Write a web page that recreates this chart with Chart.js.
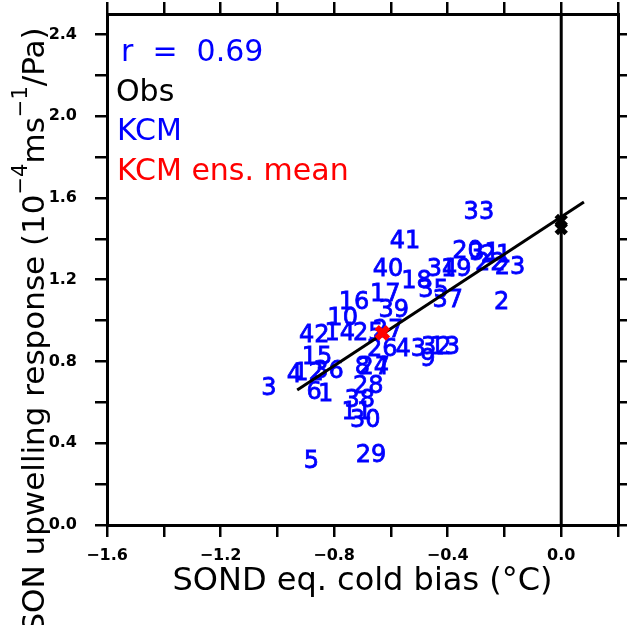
<!DOCTYPE html>
<html>
<head>
<meta charset="utf-8">
<script src="https://cdn.jsdelivr.net/npm/chart.js@4.4.1/dist/chart.umd.min.js"></script>
<style>
  body { margin: 0; background: #fff; }
  canvas { display: block; }
</style>
</head>
<body>
<canvas id="biasChart" width="632" height="625"></canvas>
<script>
// model numbers, cold bias (x) and upwelling response (y)
const modelLabels = ['33', '41', '40', '20', '31', '21', '22', '23', '34', '19',
  '18', '35', '37', '2', '17', '39', '16', '10', '14', '42',
  '25', '27', '26', '43', '32', '13', '9', '15', '4', '12',
  '36', '3', '6', '1', '8', '24', '7', '28', '38', '11',
  '30', '5', '29'];
const modelBias = [-0.29, -0.55, -0.61, -0.33, -0.27, -0.23, -0.25, -0.18, -0.42, -0.37,
  -0.51, -0.45, -0.40, -0.21, -0.62, -0.59, -0.73, -0.77, -0.78, -0.87,
  -0.68, -0.61, -0.63, -0.53, -0.44, -0.41, -0.47, -0.86, -0.94, -0.89,
  -0.82, -1.03, -0.87, -0.83, -0.70, -0.66, -0.63, -0.68, -0.71, -0.72,
  -0.69, -0.88, -0.67];
const modelUpwelling = [1.54, 1.40, 1.26, 1.35, 1.34, 1.33, 1.29, 1.27, 1.26, 1.26,
  1.20, 1.16, 1.11, 1.10, 1.14, 1.06, 1.10, 1.02, 0.95, 0.94,
  0.95, 0.96, 0.87, 0.87, 0.88, 0.88, 0.82, 0.83, 0.74, 0.75,
  0.76, 0.68, 0.66, 0.65, 0.78, 0.78, 0.78, 0.69, 0.62, 0.56,
  0.52, 0.32, 0.35];

// ensemble mean and observations
const ensBias = [-0.63];
const ensUpwelling = [0.94];
const obsBias = [0.0, 0.0];
const obsUpwelling = [1.49, 1.45];

// regression line end points
const fitBias = [-0.93, 0.08];
const fitUpwelling = [0.66, 1.58];

// zero bias reference line
const zeroBias = [0.0, 0.0];
const zeroUpwelling = [0.0, 2.5];

// axis ticks
const xTickValues = [-1.6, -1.4, -1.2, -1.0, -0.8, -0.6, -0.4, -0.2, 0.0, 0.2];
const xTickLabels = ['−1.6', '', '−1.2', '', '−0.8', '', '−0.4', '', '0.0', ''];
const yTickValues = [0.0, 0.2, 0.4, 0.6, 0.8, 1.0, 1.2, 1.4, 1.6, 1.8, 2.0, 2.2, 2.4];
const yTickLabels = ['0.0', '', '0.4', '', '0.8', '', '1.2', '', '1.6', '', '2.0', '', '2.4'];

const toPoints = (xs, ys) => xs.map((x, i) => ({ x: x, y: ys[i] }));

// model numbers are drawn as text at their data positions, under the lines
const numberLabels = {
  id: 'numberLabels',
  beforeDatasetsDraw(chart) {
    const ctx = chart.ctx;
    const meta = chart.getDatasetMeta(4);
    ctx.save();
    ctx.font = '24px "DejaVu Sans"';
    ctx.fillStyle = '#0000ff';
    ctx.strokeStyle = '#0000ff';
    ctx.lineWidth = 0.8;
    ctx.textAlign = 'center';
    ctx.textBaseline = 'alphabetic';
    meta.data.forEach((pt, i) => {
      ctx.fillText(modelLabels[i], pt.x, pt.y + 8.7);
      ctx.strokeText(modelLabels[i], pt.x, pt.y + 8.7);
    });
    ctx.restore();
  }
};

// legend text and the rotated y title with superscripts
const textItems = {
  id: 'textItems',
  afterDraw(chart) {
    const ctx = chart.ctx;
    ctx.save();
    ctx.font = '30px "DejaVu Sans"';
    ctx.textAlign = 'left';
    ctx.textBaseline = 'alphabetic';
    ctx.fillStyle = '#0000ff';
    ctx.fillText('r  =  0.69', 121, 61);
    ctx.fillStyle = '#000000';
    ctx.fillText('Obs', 116, 101);
    ctx.fillStyle = '#0000ff';
    ctx.fillText('KCM', 117, 140);
    ctx.fillStyle = '#ff0000';
    ctx.fillText('KCM ens. mean', 117, 180);

    const runs = [
      { t: 'SON upwelling response (10', sup: false },
      { t: '−4', sup: true },
      { t: 'ms', sup: false },
      { t: '−1', sup: true },
      { t: '/Pa)', sup: false }
    ];
    const mainFont = '31px "DejaVu Sans"';
    const supFont = '21px "DejaVu Sans"';
    ctx.translate(44, 330);
    ctx.rotate(-Math.PI / 2);
    ctx.fillStyle = '#000000';
    let total = 0;
    runs.forEach(r => {
      ctx.font = r.sup ? supFont : mainFont;
      r.w = ctx.measureText(r.t).width;
      total += r.w;
    });
    let x = -total / 2;
    runs.forEach(r => {
      ctx.font = r.sup ? supFont : mainFont;
      ctx.fillText(r.t, x, r.sup ? -17 : 0);
      x += r.w;
    });
    ctx.restore();
  }
};

const tickFont = { family: 'DejaVu Sans', weight: 'bold', size: 16 };
const axisGrid = (len) => ({ drawOnChartArea: false, tickLength: len, lineWidth: 2.5, color: '#000' });
const axisBorder = { color: '#000', width: 3 };
const noPad = s => { s.paddingTop = 0; s.paddingBottom = 0; };

const ctx = document.getElementById('biasChart').getContext('2d');
const biasChart = new Chart(ctx, {
  type: 'scatter',
  data: {
    datasets: [
      {
        label: 'Obs',
        data: toPoints(obsBias, obsUpwelling),
        pointStyle: 'crossRot',
        pointRadius: 7,
        borderWidth: 5,
        borderColor: '#000000',
        backgroundColor: '#000000'
      },
      {
        label: 'KCM ens. mean',
        data: toPoints(ensBias, ensUpwelling),
        pointStyle: 'crossRot',
        pointRadius: 8,
        borderWidth: 6,
        borderColor: '#ff0000',
        backgroundColor: '#ff0000'
      },
      {
        label: 'fit',
        data: toPoints(fitBias, fitUpwelling),
        showLine: true,
        pointRadius: 0,
        borderWidth: 3,
        borderColor: '#000000'
      },
      {
        label: 'zero',
        data: toPoints(zeroBias, zeroUpwelling),
        showLine: true,
        pointRadius: 0,
        borderWidth: 3,
        borderColor: '#000000'
      },
      {
        label: 'KCM',
        data: toPoints(modelBias, modelUpwelling),
        pointRadius: 0,
        borderWidth: 0
      }
    ]
  },
  options: {
    responsive: false,
    animation: false,
    devicePixelRatio: 1,
    layout: { padding: 0 },
    plugins: {
      legend: { display: false },
      tooltip: { enabled: false }
    },
    scales: {
      x: {
        type: 'linear',
        position: 'bottom',
        min: -1.6,
        max: 0.2,
        afterBuildTicks: s => { s.ticks = xTickValues.map(v => ({ value: v })); },
        afterFit: s => { s.height = 100; s.paddingLeft = 0; s.paddingRight = 0; },
        ticks: {
          callback: (v, i) => xTickLabels[i],
          autoSkip: false,
          maxRotation: 0,
          padding: 9,
          color: '#000',
          font: tickFont
        },
        grid: axisGrid(12),
        border: axisBorder,
        title: {
          display: true,
          text: 'SOND eq. cold bias (°C)',
          color: '#000',
          font: { family: 'DejaVu Sans', size: 32, lineHeight: 1 },
          padding: { top: 0, bottom: 27 }
        }
      },
      xTop: {
        type: 'linear',
        position: 'top',
        min: -1.6,
        max: 0.2,
        afterBuildTicks: s => { s.ticks = xTickValues.map(v => ({ value: v })); },
        afterFit: s => { s.height = 14; s.paddingLeft = 0; s.paddingRight = 0; },
        ticks: { display: false },
        grid: axisGrid(12),
        border: axisBorder
      },
      y: {
        type: 'linear',
        position: 'left',
        min: 0,
        max: 2.5,
        afterBuildTicks: s => { s.ticks = yTickValues.map(v => ({ value: v })); },
        afterFit: s => { s.width = 107; noPad(s); },
        ticks: {
          callback: (v, i) => yTickLabels[i],
          autoSkip: false,
          padding: 18,
          color: '#000',
          font: tickFont
        },
        grid: axisGrid(12),
        border: axisBorder
      },
      yRight: {
        type: 'linear',
        position: 'right',
        min: 0,
        max: 2.5,
        afterBuildTicks: s => { s.ticks = yTickValues.map(v => ({ value: v })); },
        afterFit: s => { s.width = 9; noPad(s); },
        ticks: { display: false },
        grid: axisGrid(9),
        border: axisBorder
      }
    }
  },
  plugins: [numberLabels, textItems]
});
</script>
</body>
</html>
